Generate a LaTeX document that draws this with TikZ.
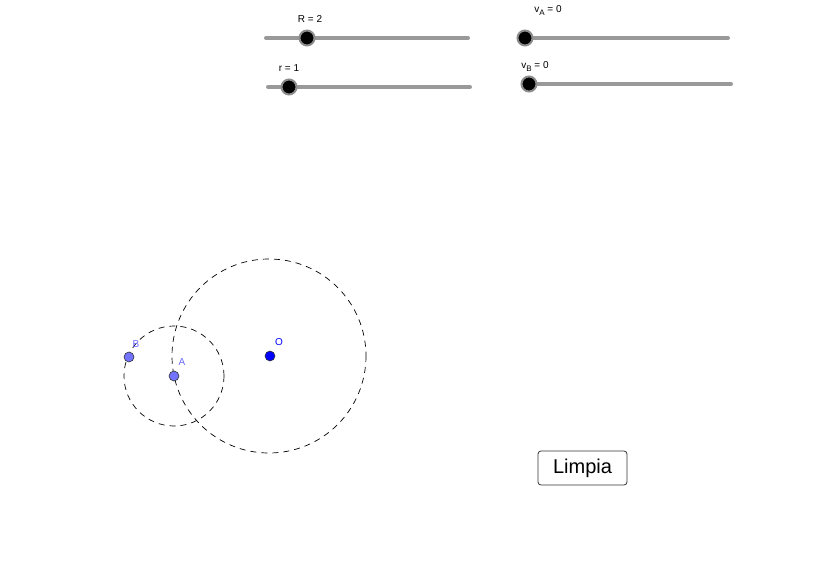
\documentclass[tikz,border=0pt]{standalone}
\usepackage{fontspec}
\setmainfont{Liberation Sans}
\begin{document}
\begin{tikzpicture}[x=1pt,y=-1pt,
  track/.style={line width=4pt,color=black!40,line cap=round},
  knob/.style={circle,fill=black,draw=black!45,line width=2pt,inner sep=0pt,minimum size=15pt},
  lbl/.style={font=\fontsize{10}{11}\selectfont,inner sep=0pt},
  pt/.style={circle,draw=black!80,line width=0.6pt,inner sep=0pt,minimum size=10pt},
  plbl/.style={font=\fontsize{10}{11}\selectfont,inner sep=0pt,text=blue!60!white},
  dash circ/.style={dashed,dash pattern=on 6pt off 5pt,line width=0.7pt}]
\useasboundingbox (0,0) rectangle (835,577);
% sliders
\coordinate (Ra) at (266,38); \coordinate (Rb) at (468,38);
\draw[track] (Ra) -- (Rb);
\node[knob] (Rk) at (307,38) {};
\node[lbl] (Rl) at (310,19) {R = 2};
\coordinate (ra) at (268,87); \coordinate (rb) at (470,87);
\draw[track] (ra) -- (rb);
\node[knob] (rk) at (289,87) {};
\node[lbl] (rl) at (289,68) {r = 1};
\coordinate (vAa) at (525,38); \coordinate (vAb) at (728,38);
\draw[track] (vAa) -- (vAb);
\node[knob] (vAk) at (525,38) {};
\node[lbl] (vAl) at (548,11) {v\raisebox{-3pt}{\fontsize{8}{9}\selectfont A} = 0};
\coordinate (vBa) at (529,84); \coordinate (vBb) at (731,84);
\draw[track] (vBa) -- (vBb);
\node[knob] (vBk) at (529,84) {};
\node[lbl] (vBl) at (535,67) {v\raisebox{-3pt}{\fontsize{8}{9}\selectfont B} = 0};
% circles
\coordinate (Oc) at (269,356);
\draw[dash circ] (Oc) circle (97);
\draw[dash circ] (174,376) circle (50);
% points
\node[pt,fill=blue] (O) at (270,356) {};
\node[pt,fill=blue!55!white] (A) at (174,376) {};
\node[pt,fill=blue!55!white] (B) at (129,357) {};
\node[plbl,text=blue] (Ol) at (279,342) {O};
\node[plbl] (Al) at (182,362) {A};
\node[plbl] (Bl) at (136,344) {B};
% button
\node[draw=black!80,line width=0.8pt,rounded corners=3pt,minimum width=89pt,minimum height=34pt,inner sep=0pt,font=\fontsize{20}{24}\selectfont] (btn) at (582.5,468) {Limpia};
\end{tikzpicture}
\end{document}
